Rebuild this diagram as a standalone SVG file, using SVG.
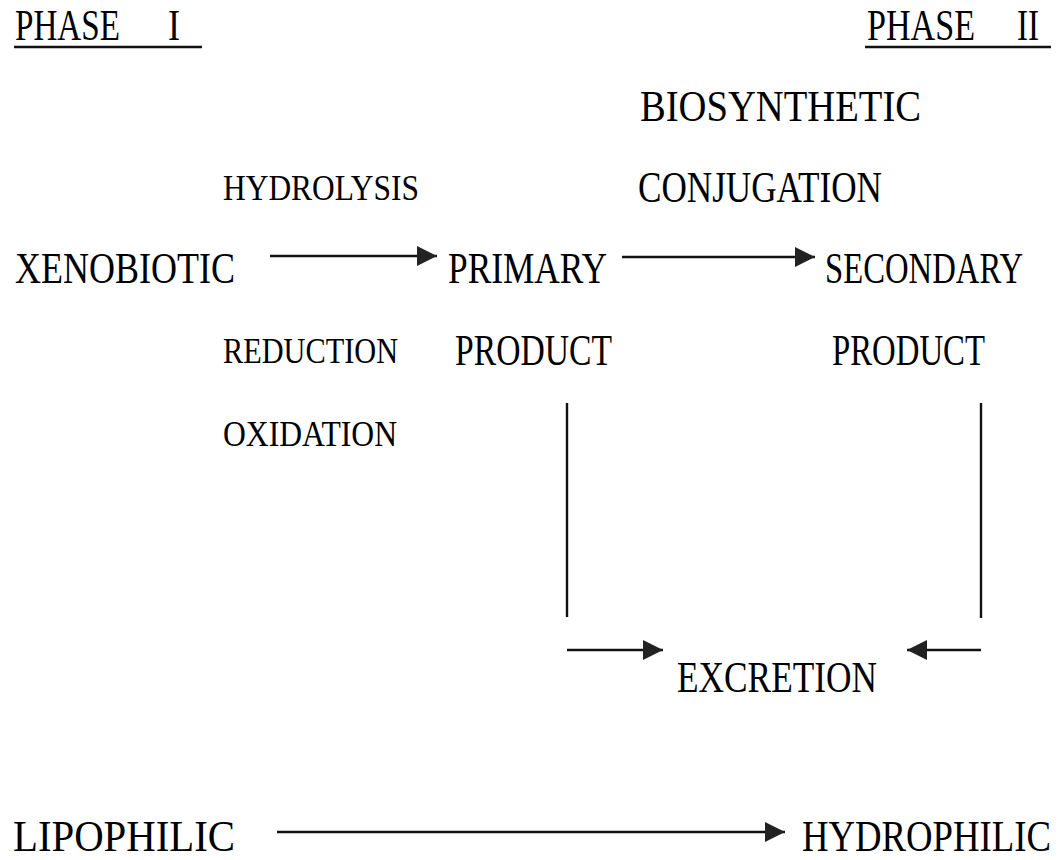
<svg xmlns="http://www.w3.org/2000/svg" width="1059" height="860" viewBox="0 0 1059 860">
<style>
text{font-family:"Liberation Serif","Times New Roman",serif;fill:#000;}
.L{font-size:45px;}
.S{font-size:36px;}
.ln{stroke:#111;stroke-width:2.4;fill:none;}
</style>
<defs>
<marker id="ah" markerUnits="userSpaceOnUse" markerWidth="22" markerHeight="22" refX="20" refY="10" orient="auto">
<path d="M0,0 L20,10 L0,20 Z" fill="#222"/>
</marker>
</defs>
<rect width="1059" height="860" fill="#fff"/>
<g id="phase1">
<text class="L" y="40"><tspan x="15" textLength="105" lengthAdjust="spacingAndGlyphs">PHASE</tspan> <tspan x="168" textLength="12" lengthAdjust="spacingAndGlyphs">I</tspan></text>
<line class="ln" x1="14" y1="47" x2="202" y2="47"/>
</g>
<g id="phase2">
<text class="L" y="40"><tspan x="867" textLength="108" lengthAdjust="spacingAndGlyphs">PHASE</tspan> <tspan x="1017" textLength="22" lengthAdjust="spacingAndGlyphs">II</tspan></text>
<line class="ln" x1="865" y1="47" x2="1051" y2="47"/>
</g>
<g id="biosynthetic"><text class="L" x="640" y="121" textLength="281" lengthAdjust="spacingAndGlyphs">BIOSYNTHETIC</text></g>
<g id="hydrolysis"><text class="S" x="223" y="200" textLength="196" lengthAdjust="spacingAndGlyphs">HYDROLYSIS</text></g>
<g id="conjugation"><text class="L" x="638" y="202" textLength="244" lengthAdjust="spacingAndGlyphs">CONJUGATION</text></g>
<g id="xenobiotic"><text class="L" x="15" y="283" textLength="220" lengthAdjust="spacingAndGlyphs">XENOBIOTIC</text></g>
<g id="primary"><text class="L" x="448" y="283" textLength="159" lengthAdjust="spacingAndGlyphs">PRIMARY</text>
<text class="L" x="455" y="365" textLength="157" lengthAdjust="spacingAndGlyphs">PRODUCT</text></g>
<g id="secondary"><text class="L" transform="translate(825 283) scale(0.72 1)" textLength="275" lengthAdjust="spacingAndGlyphs">SECONDARY</text>
<text class="L" x="832" y="365" textLength="153" lengthAdjust="spacingAndGlyphs">PRODUCT</text></g>
<g id="reduction"><text class="S" x="223" y="363" textLength="175" lengthAdjust="spacingAndGlyphs">REDUCTION</text></g>
<g id="oxidation"><text class="S" x="223" y="446" textLength="174" lengthAdjust="spacingAndGlyphs">OXIDATION</text></g>
<g id="excretion"><text class="L" x="677" y="692" textLength="200" lengthAdjust="spacingAndGlyphs">EXCRETION</text></g>
<g id="lipophilic"><text class="L" x="13" y="851" textLength="222" lengthAdjust="spacingAndGlyphs">LIPOPHILIC</text></g>
<g id="hydrophilic"><text class="L" transform="translate(802 851) scale(0.816 1)" textLength="305" lengthAdjust="spacingAndGlyphs">HYDROPHILIC</text></g>
<g id="connectors">
<line class="ln" x1="270" y1="256" x2="437" y2="256" marker-end="url(#ah)"/>
<line class="ln" x1="622" y1="257" x2="815" y2="257" marker-end="url(#ah)"/>
<line class="ln" x1="567" y1="403" x2="567" y2="617"/>
<line class="ln" x1="981" y1="403" x2="981" y2="618"/>
<line class="ln" x1="567" y1="650" x2="663" y2="650" marker-end="url(#ah)"/>
<line class="ln" x1="981" y1="650" x2="907" y2="650" marker-end="url(#ah)"/>
<line class="ln" x1="277" y1="832" x2="785" y2="832" marker-end="url(#ah)"/>
</g>
</svg>
